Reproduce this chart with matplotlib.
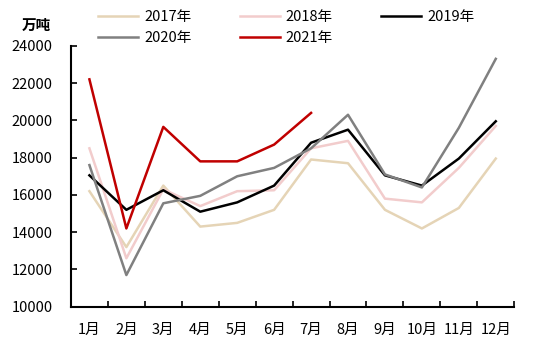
import numpy as np
import matplotlib
matplotlib.use('Agg')
import matplotlib.pyplot as plt

plt.rcParams['font.family'] = ['Noto Sans CJK SC', 'DejaVu Sans']

months = ['1月', '2月', '3月', '4月', '5月', '6月', '7月', '8月', '9月', '10月', '11月', '12月']

y2017 = [16200, 13200, 16500, 14300, 14500, 15200, 17900, 17700, 15200, 14200, 15300, 17950]
y2018 = [18500, 12600, 16300, 15400, 16200, 16250, 18500, 18900, 15800, 15600, 17450, 19700]
y2019 = [17050, 15200, 16250, 15100, 15600, 16500, 18800, 19500, 17050, 16500, 17950, 19950]
y2020 = [17600, 11700, 15550, 15950, 17000, 17450, 18500, 20300, 17100, 16400, 19600, 23300]
y2021 = [22200, 14200, 19650, 17800, 17800, 18700, 20400]

series = [
    ('2017年', y2017, '#E5D4B6'),
    ('2018年', y2018, '#F2CCCC'),
    ('2019年', y2019, '#000000'),
    ('2020年', y2020, '#808080'),
    ('2021年', y2021, '#C00000'),
]

fig = plt.figure(figsize=(5.5, 3.47), dpi=100)
ax = fig.add_axes([0.129, 0.116, 0.806, 0.752])

x = np.arange(len(months))
lines = {}
for name, vals, col in series:
    lines[name], = ax.plot(x[:len(vals)], vals, color=col, lw=1.8, label=name)

ax.set_xlim(-0.5, 11.5)
ax.set_ylim(10000, 24000)
ax.set_yticks(np.arange(10000, 24001, 2000))
ax.set_xticks(x)
ax.set_xticklabels(months)
ax.set_xticks(np.arange(-0.5, 12, 1), minor=True)
ax.tick_params(axis='x', which='major', length=0, pad=12, labelsize=10.5)
ax.tick_params(axis='x', which='minor', direction='in', length=4, width=1.2)
ax.tick_params(axis='y', direction='in', length=4, width=1.2, pad=13, labelsize=10.5)

for s in ['top', 'right']:
    ax.spines[s].set_visible(False)
for s in ['left', 'bottom']:
    ax.spines[s].set_linewidth(1.5)

fig.text(0.04, 0.915, '万吨', fontsize=10.5, fontweight='bold')

# matplotlib fills legend columns first, so reorder to get rows 2017-2019 / 2020-2021
order = ['2017年', '2020年', '2018年', '2021年', '2019年']
fig.legend([lines[k] for k in order], order, loc='upper left',
           bbox_to_anchor=(0.155, 1.009), ncol=3, frameon=False,
           fontsize=10.5, handlelength=2.75, columnspacing=3.3, labelspacing=0.5,
           handletextpad=0.4)

fig.savefig('out.png', dpi=100)
